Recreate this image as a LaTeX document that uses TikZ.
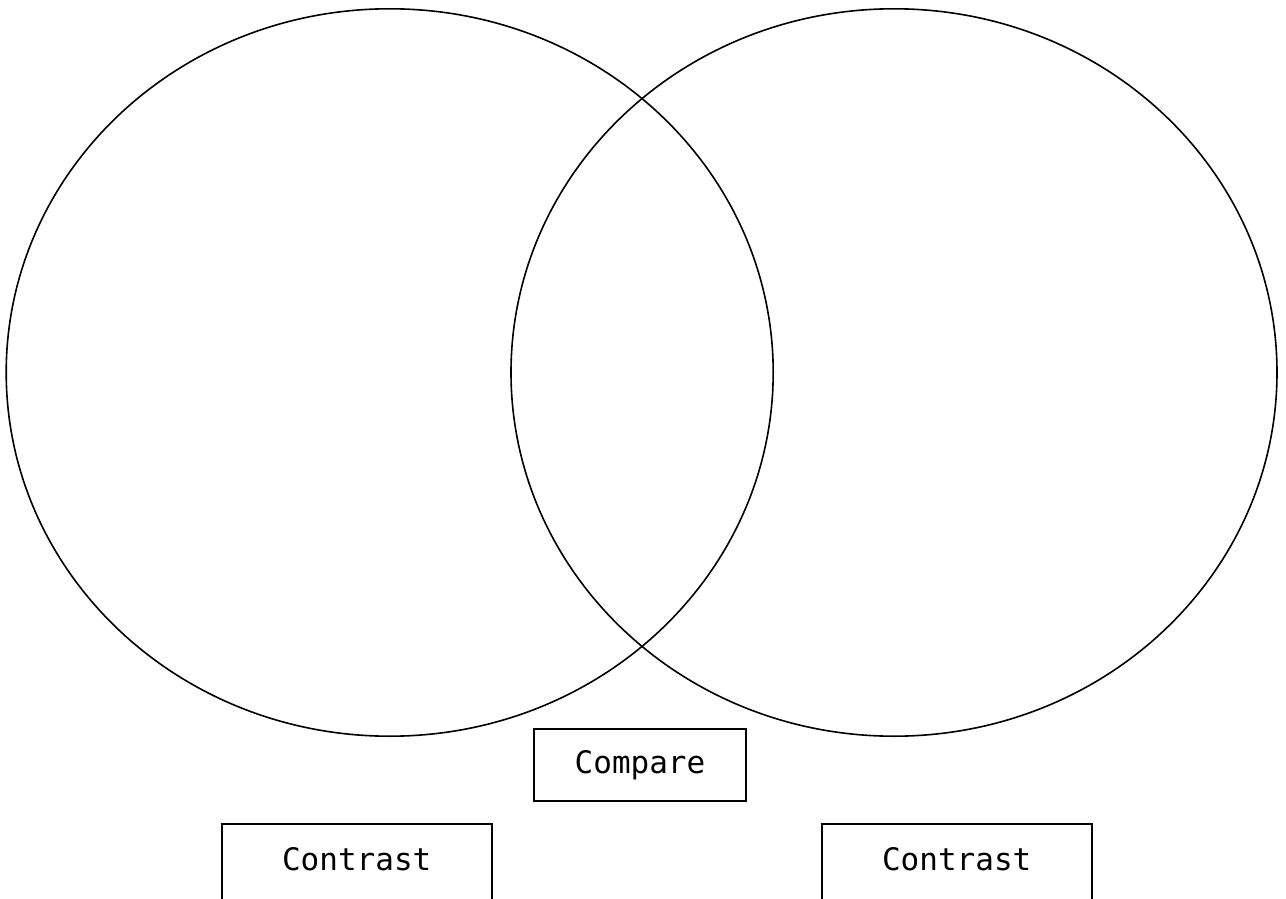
\documentclass[tikz,border=0pt]{standalone}
\usepackage{fontspec}
\newfontfamily\labelfont{DejaVu Sans Mono}
\begin{document}
\begin{tikzpicture}[x=1pt,y=-1pt,
  ring/.style={draw=black,line width=1.6pt},
  labelbox/.style={draw=black,line width=2pt,minimum width=270pt,inner sep=0pt,font=\labelfont\fontsize{31}{36}\selectfont},
  cbox/.style={labelbox,minimum width=212pt,minimum height=72pt},
  tallbox/.style={labelbox,anchor=north,text height=46pt,text depth=100pt}]
\useasboundingbox (0,0) rectangle (1286,899);
\clip (0,0) rectangle (1286,899);
\draw[ring] (389.7,372.5) ellipse [x radius=383.5, y radius=363.7];
\draw[ring] (894,372.5) ellipse [x radius=383, y radius=363.7];
\node[cbox] (compare) at (640,765) {Compare};
\node[tallbox] (contrastL) at (356.7,823) {Contrast};
\node[tallbox] (contrastR) at (956.7,823) {Contrast};
\end{tikzpicture}
\end{document}
